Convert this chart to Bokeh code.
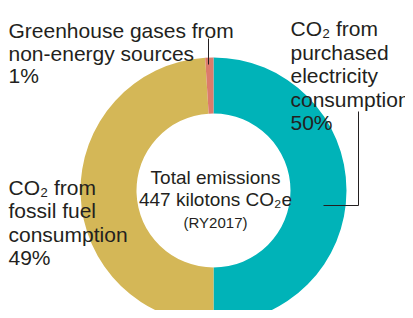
import numpy as np
from bokeh.plotting import figure
from bokeh.models import Range1d, ColumnDataSource
from bokeh.embed import file_html
from bokeh.resources import INLINE
from bokeh.core.properties import value

# ---- data ----
categories = ["Purchased electricity", "Fossil fuel", "Non-energy sources"]
shares = [50, 49, 1]
colors = ["#00B3B8", "#D4B757", "#DC7B6B"]
label_lines = [
    ["CO₂ from", "purchased", "electricity", "consumption"],
    ["CO₂ from", "fossil fuel", "consumption"],
    ["Greenhouse gases from", "non-energy sources"],
]
center_lines = ["Total emissions", "447 kilotons CO₂e", "(RY2017)"]

# ---- layout ----
W, H = 405, 310
TOP = 318
p = figure(width=W, height=H, x_range=Range1d(0, W), y_range=Range1d(TOP - H, TOP),
           output_backend="svg", toolbar_location=None, min_border=0)
p.axis.visible = False
p.grid.visible = False
p.outline_line_color = None
p.background_fill_color = "white"

cx, cy = 213, 128
r_out, r_in = 133, 77

frac = np.array(shares, dtype=float) / sum(shares)
cum = np.concatenate([[0], np.cumsum(frac)])
top = np.pi / 2
starts = top - cum[1:] * 2 * np.pi
ends = top - cum[:-1] * 2 * np.pi
src = ColumnDataSource(dict(start=starts, end=ends, color=colors, cat=categories))
p.annular_wedge(x=cx, y=cy, inner_radius=r_in, outer_radius=r_out,
                start_angle="start", end_angle="end", direction="anticlock",
                color="color", line_color=None, source=src)

TXT = "#231F20"
FONT = value("Liberation Sans")

def add_lines(lines, x, y0, step, size, align="left"):
    ys = [y0 - i * step for i in range(len(lines))]
    p.text(x=[x] * len(lines), y=ys, text=lines, text_font=FONT,
           text_font_size=size, text_color=TXT, text_align=align,
           text_baseline="alphabetic")

# slice labels (with percentages)
add_lines(label_lines[0] + [f"{shares[0]}%"], 290, TOP - 28, 23.5, "21px")
add_lines(label_lines[1] + [f"{shares[1]}%"], 8, TOP - 187, 23.3, "21px")
add_lines(label_lines[2] + [f"{shares[2]}%"], 8, TOP - 30, 22.7, "21px")

# center text
p.text(x=[cx + 2] * 2, y=[TOP - 177, TOP - 199], text=center_lines[:2], text_font=FONT,
       text_font_size="19px", text_color=TXT, text_align="center", text_baseline="alphabetic")
p.text(x=[cx + 2], y=[TOP - 222], text=center_lines[2:], text_font=FONT,
       text_font_size="15px", text_color=TXT, text_align="center", text_baseline="alphabetic")

# leader lines
p.line(x=[cx - 5, cx - 5], y=[cy + r_out - 7, cy + r_out + 19], line_color=TXT, line_width=1)
p.line(x=[cx + 145, cx + 145, cx + 110], y=[TOP - 111, cy - 15, cy - 15], line_color=TXT, line_width=1)

open("out.html", "w").write(file_html(p, INLINE))
